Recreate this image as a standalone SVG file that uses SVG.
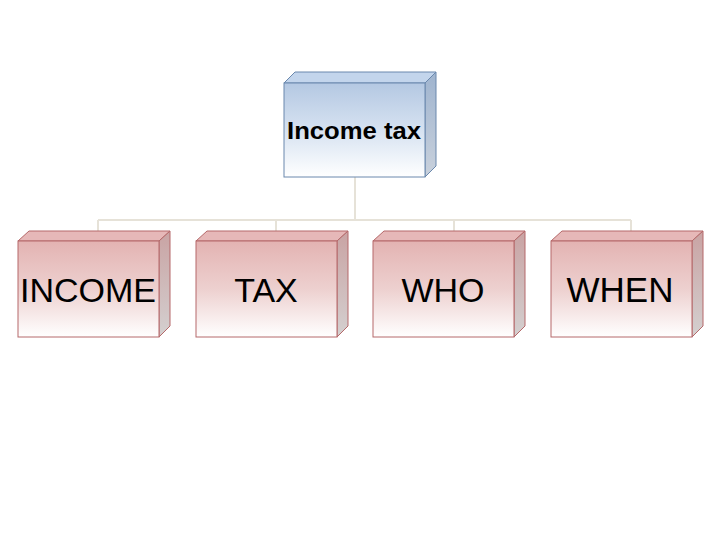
<svg xmlns="http://www.w3.org/2000/svg" width="720" height="540" viewBox="0 0 720 540">
<defs>
<linearGradient id="gb" x1="0" y1="0" x2="0" y2="1">
<stop offset="0" stop-color="#b4c8e2"/><stop offset="0.5" stop-color="#d6e2f1"/><stop offset="1" stop-color="#ffffff"/>
</linearGradient>
<linearGradient id="gbs" x1="0" y1="0" x2="0" y2="1">
<stop offset="0" stop-color="#9fb4cf"/><stop offset="1" stop-color="#c9d1dc"/>
</linearGradient>
<linearGradient id="gr" x1="0" y1="0" x2="0" y2="1">
<stop offset="0" stop-color="#e3b3b2"/><stop offset="0.5" stop-color="#edd0cf"/><stop offset="1" stop-color="#ffffff"/>
</linearGradient>
<linearGradient id="grs" x1="0" y1="0" x2="0" y2="1">
<stop offset="0" stop-color="#c9a3a3"/><stop offset="1" stop-color="#d4d0d0"/>
</linearGradient>
<style>
.conn{stroke:#e6e2d8;stroke-width:2;fill:none}
.bf{fill:url(#gb);stroke:#6a88ad;stroke-width:1}
.bt{fill:#c3d5ec;stroke:#6a88ad;stroke-width:1}
.bs{fill:url(#gbs);stroke:#6a88ad;stroke-width:1}
.rf{fill:url(#gr);stroke:#b5696a;stroke-width:1}
.rt{fill:#e6b8b8;stroke:#b5696a;stroke-width:1}
.rs{fill:url(#grs);stroke:#b5696a;stroke-width:1}
.t{font-family:"Liberation Sans",Arial,sans-serif;fill:#000;text-anchor:middle}
</style>
</defs>
<g id="connectors">
<path class="conn" d="M355 177V220M98 220H631M98 220V232M276 220V232M454 220V232M631 220V232"/>
</g>
<g id="root">
<polygon class="bt" points="284,83 295,72 436,72 425,83"/>
<polygon class="bs" points="425,83 436,72 436,166 425,177"/>
<rect class="bf" x="284" y="83" width="141" height="94"/>
<text class="t" x="354" y="139" font-size="23" font-weight="bold" textLength="134" lengthAdjust="spacingAndGlyphs">Income tax</text>
</g>
<g id="n1">
<polygon class="rt" points="18,241 29,231 170,231 159,241"/>
<polygon class="rs" points="159,241 170,231 170,326 159,337"/>
<rect class="rf" x="18" y="241" width="141" height="96"/>
<text class="t" x="88" y="302" font-size="34">INCOME</text>
</g>
<g id="n2">
<polygon class="rt" points="196,241 207,231 348,231 337,241"/>
<polygon class="rs" points="337,241 348,231 348,326 337,337"/>
<rect class="rf" x="196" y="241" width="141" height="96"/>
<text class="t" x="266" y="302" font-size="34">TAX</text>
</g>
<g id="n3">
<polygon class="rt" points="373,241 384,231 525,231 514,241"/>
<polygon class="rs" points="514,241 525,231 525,326 514,337"/>
<rect class="rf" x="373" y="241" width="141" height="96"/>
<text class="t" x="443" y="302" font-size="34">WHO</text>
</g>
<g id="n4">
<polygon class="rt" points="551,241 562,231 703,231 692,241"/>
<polygon class="rs" points="692,241 703,231 703,326 692,337"/>
<rect class="rf" x="551" y="241" width="141" height="96"/>
<text class="t" x="620" y="302" font-size="35">WHEN</text>
</g>
</svg>
